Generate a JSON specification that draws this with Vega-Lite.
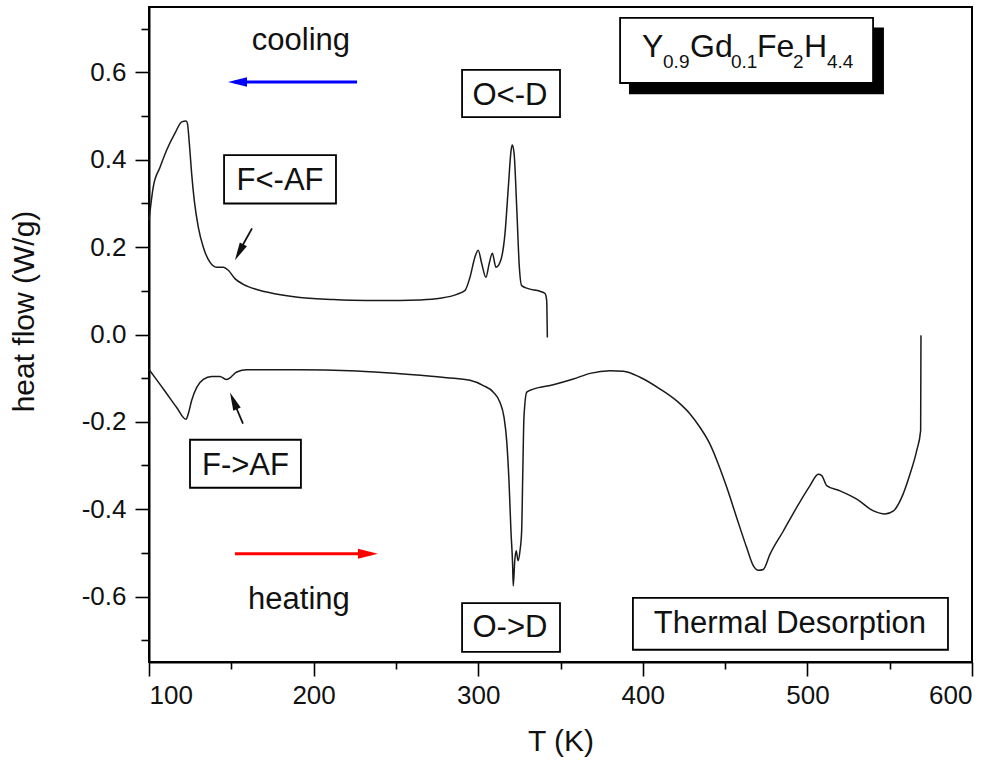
{
  "$schema": "https://vega.github.io/schema/vega-lite/v6.json",
  "width": 823,
  "height": 655,
  "autosize": {"type": "none"},
  "padding": {"left": 149, "top": 7, "right": 27, "bottom": 100},
  "background": "white",
  "config": {
    "view": {"stroke": "black", "strokeWidth": 2},
    "axis": {
      "domainColor": "black", "domainWidth": 2,
      "tickColor": "black", "tickWidth": 1.6,
      "labelFont": "Liberation Sans", "labelFontSize": 26, "labelColor": "#111",
      "titleFont": "Liberation Sans", "titleFontSize": 30, "titleFontWeight": "normal", "titleColor": "#111",
      "grid": false
    },
    "text": {"font": "Liberation Sans", "color": "#111"}
  },
  "datasets": {
    "curves": [
      {"series": "cooling", "i": 1, "T": 100, "hf": 0.261},
      {"series": "cooling", "i": 2, "T": 102.6, "hf": 0.338},
      {"series": "cooling", "i": 3, "T": 106.7, "hf": 0.383},
      {"series": "cooling", "i": 4, "T": 110.7, "hf": 0.422},
      {"series": "cooling", "i": 5, "T": 115.8, "hf": 0.461},
      {"series": "cooling", "i": 6, "T": 119.9, "hf": 0.487},
      {"series": "cooling", "i": 7, "T": 122.5, "hf": 0.489},
      {"series": "cooling", "i": 8, "T": 123.3, "hf": 0.484},
      {"series": "cooling", "i": 9, "T": 124.5, "hf": 0.438},
      {"series": "cooling", "i": 10, "T": 125.9, "hf": 0.369},
      {"series": "cooling", "i": 11, "T": 127.5, "hf": 0.307},
      {"series": "cooling", "i": 12, "T": 130, "hf": 0.245},
      {"series": "cooling", "i": 13, "T": 133, "hf": 0.2},
      {"series": "cooling", "i": 14, "T": 137.1, "hf": 0.165},
      {"series": "cooling", "i": 15, "T": 141.1, "hf": 0.154},
      {"series": "cooling", "i": 16, "T": 145.2, "hf": 0.154},
      {"series": "cooling", "i": 17, "T": 148.2, "hf": 0.147},
      {"series": "cooling", "i": 18, "T": 152.2, "hf": 0.128},
      {"series": "cooling", "i": 19, "T": 157.3, "hf": 0.115},
      {"series": "cooling", "i": 20, "T": 165.4, "hf": 0.103},
      {"series": "cooling", "i": 21, "T": 175.5, "hf": 0.094},
      {"series": "cooling", "i": 22, "T": 191.7, "hf": 0.085},
      {"series": "cooling", "i": 23, "T": 212, "hf": 0.08},
      {"series": "cooling", "i": 24, "T": 232, "hf": 0.078},
      {"series": "cooling", "i": 25, "T": 252.5, "hf": 0.078},
      {"series": "cooling", "i": 26, "T": 264, "hf": 0.079},
      {"series": "cooling", "i": 27, "T": 276.8, "hf": 0.083},
      {"series": "cooling", "i": 28, "T": 287, "hf": 0.092},
      {"series": "cooling", "i": 29, "T": 292, "hf": 0.101},
      {"series": "cooling", "i": 30, "T": 295, "hf": 0.131},
      {"series": "cooling", "i": 31, "T": 298, "hf": 0.177},
      {"series": "cooling", "i": 32, "T": 300, "hf": 0.193},
      {"series": "cooling", "i": 33, "T": 302.1, "hf": 0.163},
      {"series": "cooling", "i": 34, "T": 304.7, "hf": 0.131},
      {"series": "cooling", "i": 35, "T": 306.7, "hf": 0.163},
      {"series": "cooling", "i": 36, "T": 308.6, "hf": 0.186},
      {"series": "cooling", "i": 37, "T": 310.8, "hf": 0.154},
      {"series": "cooling", "i": 38, "T": 313.7, "hf": 0.17},
      {"series": "cooling", "i": 39, "T": 316.3, "hf": 0.232},
      {"series": "cooling", "i": 40, "T": 318.3, "hf": 0.337},
      {"series": "cooling", "i": 41, "T": 320, "hf": 0.422},
      {"series": "cooling", "i": 42, "T": 320.7, "hf": 0.434},
      {"series": "cooling", "i": 43, "T": 321.8, "hf": 0.415},
      {"series": "cooling", "i": 44, "T": 323.4, "hf": 0.291},
      {"series": "cooling", "i": 45, "T": 325, "hf": 0.154},
      {"series": "cooling", "i": 46, "T": 326.4, "hf": 0.112},
      {"series": "cooling", "i": 47, "T": 330.4, "hf": 0.105},
      {"series": "cooling", "i": 48, "T": 337.5, "hf": 0.099},
      {"series": "cooling", "i": 49, "T": 340.6, "hf": 0.094},
      {"series": "cooling", "i": 50, "T": 341.6, "hf": 0.078},
      {"series": "cooling", "i": 51, "T": 342, "hf": -0.007},
      {"series": "heating", "i": 1, "T": 100, "hf": -0.08},
      {"series": "heating", "i": 2, "T": 105.7, "hf": -0.109},
      {"series": "heating", "i": 3, "T": 110.7, "hf": -0.135},
      {"series": "heating", "i": 4, "T": 116.8, "hf": -0.167},
      {"series": "heating", "i": 5, "T": 122.5, "hf": -0.194},
      {"series": "heating", "i": 6, "T": 123.9, "hf": -0.181},
      {"series": "heating", "i": 7, "T": 125.9, "hf": -0.151},
      {"series": "heating", "i": 8, "T": 129, "hf": -0.121},
      {"series": "heating", "i": 9, "T": 133, "hf": -0.103},
      {"series": "heating", "i": 10, "T": 138.1, "hf": -0.096},
      {"series": "heating", "i": 11, "T": 143.1, "hf": -0.096},
      {"series": "heating", "i": 12, "T": 146.8, "hf": -0.103},
      {"series": "heating", "i": 13, "T": 149.6, "hf": -0.098},
      {"series": "heating", "i": 14, "T": 153.3, "hf": -0.086},
      {"series": "heating", "i": 15, "T": 159.4, "hf": -0.081},
      {"series": "heating", "i": 16, "T": 191.7, "hf": -0.081},
      {"series": "heating", "i": 17, "T": 222, "hf": -0.083},
      {"series": "heating", "i": 18, "T": 252.5, "hf": -0.09},
      {"series": "heating", "i": 19, "T": 260.6, "hf": -0.092},
      {"series": "heating", "i": 20, "T": 280.9, "hf": -0.099},
      {"series": "heating", "i": 21, "T": 295, "hf": -0.105},
      {"series": "heating", "i": 22, "T": 303.1, "hf": -0.117},
      {"series": "heating", "i": 23, "T": 309.2, "hf": -0.132},
      {"series": "heating", "i": 24, "T": 313.2, "hf": -0.155},
      {"series": "heating", "i": 25, "T": 315.7, "hf": -0.19},
      {"series": "heating", "i": 26, "T": 317.3, "hf": -0.243},
      {"series": "heating", "i": 27, "T": 318.7, "hf": -0.335},
      {"series": "heating", "i": 28, "T": 319.9, "hf": -0.45},
      {"series": "heating", "i": 29, "T": 320.9, "hf": -0.526},
      {"series": "heating", "i": 30, "T": 321.3, "hf": -0.576},
      {"series": "heating", "i": 31, "T": 322.2, "hf": -0.518},
      {"series": "heating", "i": 32, "T": 323.1, "hf": -0.495},
      {"series": "heating", "i": 33, "T": 324.2, "hf": -0.518},
      {"series": "heating", "i": 34, "T": 325.4, "hf": -0.495},
      {"series": "heating", "i": 35, "T": 326.4, "hf": -0.45},
      {"series": "heating", "i": 36, "T": 327, "hf": -0.335},
      {"series": "heating", "i": 37, "T": 327.8, "hf": -0.19},
      {"series": "heating", "i": 38, "T": 329.5, "hf": -0.132},
      {"series": "heating", "i": 39, "T": 333.5, "hf": -0.125},
      {"series": "heating", "i": 40, "T": 345.6, "hf": -0.115},
      {"series": "heating", "i": 41, "T": 357.8, "hf": -0.102},
      {"series": "heating", "i": 42, "T": 368, "hf": -0.089},
      {"series": "heating", "i": 43, "T": 380.1, "hf": -0.083},
      {"series": "heating", "i": 44, "T": 388.2, "hf": -0.084},
      {"series": "heating", "i": 45, "T": 398.3, "hf": -0.098},
      {"series": "heating", "i": 46, "T": 410.5, "hf": -0.125},
      {"series": "heating", "i": 47, "T": 421.5, "hf": -0.155},
      {"series": "heating", "i": 48, "T": 428.7, "hf": -0.182},
      {"series": "heating", "i": 49, "T": 434.8, "hf": -0.213},
      {"series": "heating", "i": 50, "T": 440.8, "hf": -0.251},
      {"series": "heating", "i": 51, "T": 445.9, "hf": -0.297},
      {"series": "heating", "i": 52, "T": 451, "hf": -0.35},
      {"series": "heating", "i": 53, "T": 457, "hf": -0.419},
      {"series": "heating", "i": 54, "T": 463.1, "hf": -0.488},
      {"series": "heating", "i": 55, "T": 467.2, "hf": -0.53},
      {"series": "heating", "i": 56, "T": 470.2, "hf": -0.54},
      {"series": "heating", "i": 57, "T": 473.2, "hf": -0.538},
      {"series": "heating", "i": 58, "T": 477.3, "hf": -0.503},
      {"series": "heating", "i": 59, "T": 485.4, "hf": -0.45},
      {"series": "heating", "i": 60, "T": 493.5, "hf": -0.396},
      {"series": "heating", "i": 61, "T": 501.6, "hf": -0.346},
      {"series": "heating", "i": 62, "T": 506.6, "hf": -0.32},
      {"series": "heating", "i": 63, "T": 508.7, "hf": -0.323},
      {"series": "heating", "i": 64, "T": 511.7, "hf": -0.346},
      {"series": "heating", "i": 65, "T": 519.8, "hf": -0.358},
      {"series": "heating", "i": 66, "T": 530, "hf": -0.377},
      {"series": "heating", "i": 67, "T": 540.1, "hf": -0.404},
      {"series": "heating", "i": 68, "T": 547.2, "hf": -0.411},
      {"series": "heating", "i": 69, "T": 552.3, "hf": -0.404},
      {"series": "heating", "i": 70, "T": 557.3, "hf": -0.373},
      {"series": "heating", "i": 71, "T": 562.3, "hf": -0.32},
      {"series": "heating", "i": 72, "T": 566.4, "hf": -0.266},
      {"series": "heating", "i": 73, "T": 568.8, "hf": -0.22},
      {"series": "heating", "i": 74, "T": 569, "hf": -0.002}
    ],
    "boxes": [
      {"label": "F<-AF", "x1": 145.6, "x2": 213.6, "y1": 0.3, "y2": 0.411},
      {"label": "F->AF", "x1": 124.9, "x2": 192.3, "y1": -0.351, "y2": -0.241},
      {"label": "O<-D", "x1": 290.2, "x2": 349.7, "y1": 0.498, "y2": 0.606},
      {"label": "O->D", "x1": 290.2, "x2": 349.7, "y1": -0.727, "y2": -0.615},
      {"label": "Thermal Desorption", "x1": 394, "x2": 585.4, "y1": -0.722, "y2": -0.603},
      {"label": "formula", "x1": 386.2, "x2": 539.9, "y1": 0.576, "y2": 0.725}
    ],
    "labels": [
      {"text": "cooling", "T": 192.3, "hf": 0.651},
      {"text": "heating", "T": 191.1, "hf": -0.628},
      {"text": "F<-AF", "T": 179.6, "hf": 0.33},
      {"text": "F->AF", "T": 158.6, "hf": -0.321},
      {"text": "O<-D", "T": 319.3, "hf": 0.525},
      {"text": "O->D", "T": 319.3, "hf": -0.693},
      {"text": "Thermal Desorption", "T": 489.4, "hf": -0.683}
    ]
  },
  "layer": [
    {
      "data": {"name": "curves"},
      "mark": {"type": "line", "color": "#1a1a1a", "strokeWidth": 1.5, "interpolate": "monotone"},
      "encoding": {
        "x": {"field": "T", "type": "quantitative",
          "scale": {"domain": [100, 600], "nice": false, "zero": false},
          "axis": {
            "values": [100, 150, 200, 250, 300, 350, 400, 450, 500, 550, 600],
            "labelExpr": "datum.value % 100 == 0 ? datum.label : ''",
            "tickSize": {"condition": {"test": "datum.value % 100 == 0", "value": 14}, "value": 7},
            "labelPadding": 6,
            "title": "T (K)", "titlePadding": 18
          }},
        "y": {"field": "hf", "type": "quantitative",
          "scale": {"domain": [-0.75, 0.75], "nice": false, "zero": false},
          "axis": {
            "values": [-0.7, -0.6, -0.5, -0.4, -0.3, -0.2, -0.1, 0, 0.1, 0.2, 0.3, 0.4, 0.5, 0.6, 0.7],
            "labelExpr": "abs(round(datum.value*10)) % 2 == 0 ? replace(format(datum.value, '.1f'), '\u2212', '-') : ''",
            "tickSize": {"condition": {"test": "abs(round(datum.value*10)) % 2 == 0", "value": 14}, "value": 8},
            "labelPadding": 9,
            "title": "heat flow (W/g)", "titlePadding": 42, "titleY": 304
          }},
        "detail": {"field": "series"},
        "order": {"field": "i", "type": "quantitative"}
      }
    },
    {
      "data": {"values": [{"x1": 391.6, "x2": 546.5, "y1": 0.55, "y2": 0.703}]},
      "mark": {"type": "rect", "fill": "black"},
      "encoding": {
        "x": {"field": "x1", "type": "quantitative"}, "x2": {"field": "x2"},
        "y": {"field": "y1", "type": "quantitative"}, "y2": {"field": "y2"}
      }
    },
    {
      "data": {"name": "boxes"},
      "mark": {"type": "rect", "fill": "white", "stroke": "black", "strokeWidth": 1.8},
      "encoding": {
        "x": {"field": "x1", "type": "quantitative"}, "x2": {"field": "x2"},
        "y": {"field": "y1", "type": "quantitative"}, "y2": {"field": "y2"}
      }
    },
    {
      "data": {"name": "labels"},
      "mark": {"type": "text", "fontSize": 31, "align": "center", "baseline": "alphabetic"},
      "encoding": {
        "x": {"field": "T", "type": "quantitative"},
        "y": {"field": "hf", "type": "quantitative"},
        "text": {"field": "text"}
      }
    },
    {
      "data": {"values": [
        {"text": "Y", "T": 399.5, "hf": 0.635},
        {"text": "Gd", "T": 428.7, "hf": 0.635},
        {"text": "Fe", "T": 469.4, "hf": 0.635},
        {"text": "H", "T": 497.9, "hf": 0.635}
      ]},
      "mark": {"type": "text", "fontSize": 32, "align": "left", "baseline": "alphabetic"},
      "encoding": {
        "x": {"field": "T", "type": "quantitative"},
        "y": {"field": "hf", "type": "quantitative"},
        "text": {"field": "text"}
      }
    },
    {
      "data": {"values": [
        {"text": "0.9", "T": 412.3, "hf": 0.61},
        {"text": "0.1", "T": 453.6, "hf": 0.61},
        {"text": "2", "T": 491.3, "hf": 0.61},
        {"text": "4.4", "T": 511.9, "hf": 0.61}
      ]},
      "mark": {"type": "text", "fontSize": 19, "align": "left", "baseline": "alphabetic"},
      "encoding": {
        "x": {"field": "T", "type": "quantitative"},
        "y": {"field": "hf", "type": "quantitative"},
        "text": {"field": "text"}
      }
    },
    {
      "data": {"values": [{"x1": 152, "x2": 226.4, "y1": 0.578, "y2": 0.578}]},
      "mark": {"type": "rule", "color": "#0000ff", "strokeWidth": 3},
      "encoding": {
        "x": {"field": "x1", "type": "quantitative"}, "x2": {"field": "x2"},
        "y": {"field": "y1", "type": "quantitative"}, "y2": {"field": "y2"}
      }
    },
    {
      "data": {"values": [{"T": 148, "hf": 0.578}]},
      "mark": {"type": "point", "shape": "M0,0L0.5,2L-0.5,2Z", "filled": true, "color": "#0000ff", "opacity": 1, "size": 361, "angle": 270},
      "encoding": {
        "x": {"field": "T", "type": "quantitative"},
        "y": {"field": "hf", "type": "quantitative"}
      }
    },
    {
      "data": {"values": [{"x1": 152.2, "x2": 235, "y1": -0.502, "y2": -0.502}]},
      "mark": {"type": "rule", "color": "#ff0000", "strokeWidth": 3},
      "encoding": {
        "x": {"field": "x1", "type": "quantitative"}, "x2": {"field": "x2"},
        "y": {"field": "y1", "type": "quantitative"}, "y2": {"field": "y2"}
      }
    },
    {
      "data": {"values": [{"T": 239.1, "hf": -0.502}]},
      "mark": {"type": "point", "shape": "M0,0L0.5,2L-0.5,2Z", "filled": true, "color": "#ff0000", "opacity": 1, "size": 400, "angle": 90},
      "encoding": {
        "x": {"field": "T", "type": "quantitative"},
        "y": {"field": "hf", "type": "quantitative"}
      }
    },
    {
      "data": {"values": [
        {"x1": 162.6, "x2": 154, "y1": 0.243, "y2": 0.185},
        {"x1": 157.1, "x2": 151, "y1": -0.204, "y2": -0.15}
      ]},
      "mark": {"type": "rule", "color": "#111", "strokeWidth": 1.8},
      "encoding": {
        "x": {"field": "x1", "type": "quantitative"}, "x2": {"field": "x2"},
        "y": {"field": "y1", "type": "quantitative"}, "y2": {"field": "y2"}
      }
    },
    {
      "data": {"values": [{"T": 152.2, "hf": 0.17}]},
      "mark": {"type": "point", "shape": "M0,0L0.45,2L-0.45,2Z", "filled": true, "color": "#111", "opacity": 1, "size": 324, "angle": 208},
      "encoding": {
        "x": {"field": "T", "type": "quantitative"},
        "y": {"field": "hf", "type": "quantitative"}
      }
    },
    {
      "data": {"values": [{"T": 149.2, "hf": -0.133}]},
      "mark": {"type": "point", "shape": "M0,0L0.45,2L-0.45,2Z", "filled": true, "color": "#111", "opacity": 1, "size": 324, "angle": 337},
      "encoding": {
        "x": {"field": "T", "type": "quantitative"},
        "y": {"field": "hf", "type": "quantitative"}
      }
    }
  ]
}
